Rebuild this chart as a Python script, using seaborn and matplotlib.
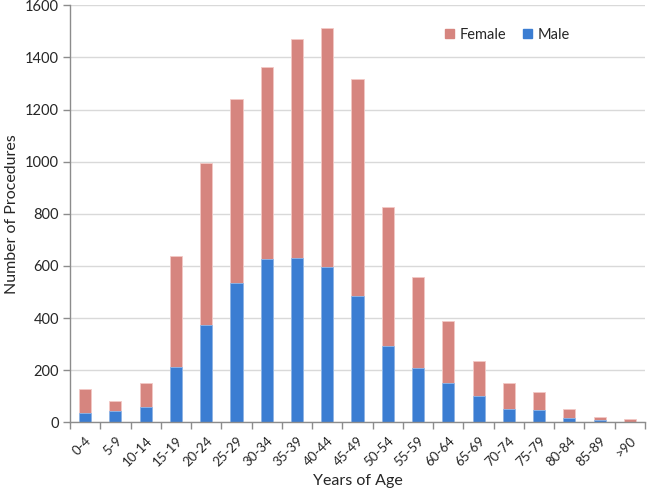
import matplotlib
matplotlib.use("Agg")
import matplotlib.pyplot as plt
import seaborn as sns
import pandas as pd
from matplotlib.patches import Patch

age_groups = ["0-4", "5-9", "10-14", "15-19", "20-24", "25-29", "30-34", "35-39",
              "40-44", "45-49", "50-54", "55-59", "60-64", "65-69", "70-74",
              "75-79", "80-84", "85-89", ">90"]
male = [34, 43, 59, 212, 374, 536, 627, 630, 597, 485, 293, 207, 151, 102, 52, 46, 18, 9, 2]
female = [95, 39, 90, 426, 621, 705, 738, 840, 915, 832, 534, 352, 237, 133, 97, 70, 33, 12, 11]

total = [m + f for m, f in zip(male, female)]
df = pd.DataFrame({"age": age_groups, "male": male, "female": female, "total": total})

sns.set_style("white")
plt.rcParams["font.family"] = ["Lato", "DejaVu Sans"]

fig = plt.figure(figsize=(6.5, 4.97), dpi=100)
ax = fig.add_axes([70 / 650, (497 - 422.3) / 497, (645 - 70) / 650, (422.3 - 5.3) / 497])

pink = "#D6857F"
blue = "#3B7DD2"
sns.barplot(data=df, x="age", y="total", color=pink, width=0.4, ax=ax,
            edgecolor="#F3C9C6", linewidth=0.6, saturation=1)
sns.barplot(data=df, x="age", y="male", color=blue, width=0.4, ax=ax,
            edgecolor="#8FB8EA", linewidth=0.6, saturation=1)

ax.set_xlim(-0.5, len(age_groups) - 0.5)
ax.set_ylim(0, 1600)
ax.set_yticks(range(0, 1601, 200))
ax.yaxis.grid(True, color="#D9D9D9", linewidth=1)
ax.set_axisbelow(True)

for s in ["top", "right"]:
    ax.spines[s].set_visible(False)
for s in ["left", "bottom"]:
    ax.spines[s].set_color("#8C8C8C")
    ax.spines[s].set_linewidth(1)

# category boundary ticks (Excel style)
ax.set_xticks([i + 0.5 for i in range(-1, len(age_groups))], minor=True)
ax.tick_params(axis="x", which="minor", length=5, color="#8C8C8C", width=1, direction="out", bottom=True)
ax.tick_params(axis="x", which="major", length=0, pad=9)
ax.tick_params(axis="y", length=5, color="#8C8C8C", width=1, direction="out", left=True, labelsize=10.5, pad=3)
ax.set_xticks(range(len(age_groups)))
ax.set_xticklabels(age_groups, rotation=45, ha="right", rotation_mode="anchor", fontsize=9.5)

ax.set_xlabel("Years of Age", fontsize=11.5)
ax.xaxis.set_label_coords(0.5, (422.3 - 481) / 417)
ax.xaxis.label.set_va("center")
ax.set_ylabel("Number of Procedures", fontsize=11.5)
ax.yaxis.set_label_coords((12 - 70) / 575, 0.5)
ax.yaxis.label.set_va("center")

handles = [Patch(color=pink, label="Female"), Patch(color=blue, label="Male")]
ax.legend(handles=handles, ncol=2, frameon=False, loc="upper left",
          bbox_to_anchor=(0.63, 0.978), fontsize=10.5, handlelength=0.6, handleheight=0.6,
          columnspacing=1.2, handletextpad=0.35)

fig.savefig("out.png", dpi=100)
